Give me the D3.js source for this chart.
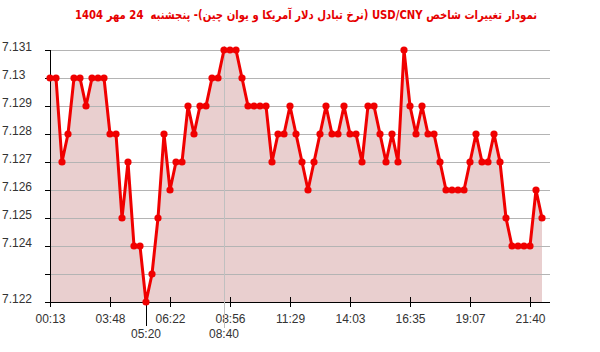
<!DOCTYPE html>
<html>
<head>
<meta charset="utf-8">
<script src="https://cdn.jsdelivr.net/npm/d3@7"></script>
<style>
  html, body { margin: 0; padding: 0; background: #fff; }
  svg { display: block; }
</style>
</head>
<body>
<svg id="chart" width="600" height="352"></svg>
<script>
const titleText = "نمودار تغییرات شاخص USD/CNY (نرخ تبادل دلار آمریکا و یوان چین)- پنجشنبه  24 مهر 1404";

const values = [
  7.130, 7.130, 7.127, 7.128, 7.130, 7.130, 7.129, 7.130, 7.130, 7.130,
  7.128, 7.128, 7.125, 7.127, 7.124, 7.124, 7.122, 7.123, 7.125, 7.128,
  7.126, 7.127, 7.127, 7.129, 7.128, 7.129, 7.129, 7.130, 7.130, 7.131,
  7.131, 7.131, 7.130, 7.129, 7.129, 7.129, 7.129, 7.127, 7.128, 7.128,
  7.129, 7.128, 7.127, 7.126, 7.127, 7.128, 7.129, 7.128, 7.128, 7.129,
  7.128, 7.128, 7.127, 7.129, 7.129, 7.128, 7.127, 7.128, 7.127, 7.131,
  7.129, 7.128, 7.129, 7.128, 7.128, 7.127, 7.126, 7.126, 7.126, 7.126,
  7.127, 7.128, 7.127, 7.127, 7.128, 7.127, 7.125, 7.124, 7.124, 7.124,
  7.124, 7.126, 7.125
];

const xTickIndex = [0, 10, 20, 30, 40, 50, 60, 70, 80];
const xTickLabels = ["00:13", "03:48", "06:22", "08:56", "11:29", "14:03", "16:35", "19:07", "21:40"];

const minLabel = "05:20";
const maxLabel = "08:40";

const yTickValues = [7.122, 7.123, 7.124, 7.125, 7.126, 7.127, 7.128, 7.129, 7.130, 7.131];
const yTickLabels = ["7.122", "", "7.124", "7.125", "7.126", "7.127", "7.128", "7.129", "7.13", "7.131"];

const svg = d3.select("#chart");
const mLeft = 50, mRight = 550, mTop = 50, mBottom = 302;

const x = d3.scaleLinear().domain([0, values.length - 1]).range([50, 542]);
const y = d3.scaleLinear().domain([7.122, 7.131]).range([mBottom, mTop]);

// title
svg.append("text")
  .attr("x", 306).attr("y", 19)
  .attr("text-anchor", "middle")
  .attr("direction", "rtl")
  .style("white-space", "pre")
  .attr("fill", "#e60000")
  .attr("font-family", "DejaVu Sans, Liberation Sans, Arial, sans-serif")
  .attr("font-weight", "bold")
  .attr("font-size", 12)
  .attr("textLength", 462)
  .attr("lengthAdjust", "spacingAndGlyphs")
  .text(titleText);

// area
const area = d3.area()
  .x((d, i) => x(i))
  .y0(mBottom)
  .y1(d => y(d));
svg.append("path")
  .datum(values)
  .attr("d", area)
  .attr("fill", "rgba(170,70,70,0.26)");

// gridlines
svg.append("g").selectAll("line")
  .data(yTickValues.filter(v => v !== 7.122))
  .join("line")
  .attr("x1", mLeft).attr("x2", mRight)
  .attr("y1", d => y(d)).attr("y2", d => y(d))
  .attr("stroke", "#b4b4b4").attr("stroke-width", 1)
  .attr("shape-rendering", "crispEdges");

// y axis
const yAxis = d3.axisLeft(y)
  .tickValues(yTickValues)
  .tickSize(5)
  .tickFormat((d, i) => yTickLabels[i]);
const gy = svg.append("g")
  .attr("transform", `translate(${mLeft},0)`)
  .call(yAxis);
gy.select(".domain").remove();
gy.selectAll(".tick line").attr("stroke", "#000").attr("shape-rendering", "crispEdges");
gy.selectAll(".tick text")
  .attr("text-anchor", "start")
  .attr("x", -48)
  .attr("y", -3)
  .attr("fill", "#333")
  .attr("font-family", "Liberation Sans, Arial, sans-serif")
  .attr("font-size", 12);
gy.append("line")
  .attr("x1", 0).attr("x2", 0).attr("y1", mTop).attr("y2", mBottom)
  .attr("stroke", "#000").attr("shape-rendering", "crispEdges");

// x axis
const xAxis = d3.axisBottom(x)
  .tickValues(xTickIndex)
  .tickSize(5)
  .tickFormat((d, i) => xTickLabels[i]);
const gx = svg.append("g")
  .attr("transform", `translate(0,${mBottom})`)
  .call(xAxis);
gx.select(".domain").remove();
gx.selectAll(".tick line")
  .attr("y1", -5).attr("y2", 5)
  .attr("stroke", "#000").attr("shape-rendering", "crispEdges");
gx.selectAll(".tick text")
  .attr("y", 12)
  .attr("fill", "#333")
  .attr("font-family", "Liberation Sans, Arial, sans-serif")
  .attr("font-size", 12);
gx.append("line")
  .attr("x1", 45).attr("x2", mRight).attr("y1", 0).attr("y2", 0)
  .attr("stroke", "#000").attr("shape-rendering", "crispEdges");

// max marker line (gray)
const maxI = d3.maxIndex(values);
const minI = d3.minIndex(values);
svg.append("line")
  .attr("x1", x(maxI)).attr("x2", x(maxI))
  .attr("y1", mTop - 4).attr("y2", 328)
  .attr("stroke", "#c0c0c0").attr("stroke-width", 1)
  .attr("shape-rendering", "crispEdges");
svg.append("text")
  .attr("x", x(maxI)).attr("y", 338)
  .attr("text-anchor", "middle")
  .attr("fill", "#333")
  .attr("font-family", "Liberation Sans, Arial, sans-serif")
  .attr("font-size", 12)
  .text(maxLabel);

// min marker line (black)
svg.append("line")
  .attr("x1", x(minI)).attr("x2", x(minI))
  .attr("y1", y(values[minI])).attr("y2", 326)
  .attr("stroke", "#000").attr("stroke-width", 1)
  .attr("shape-rendering", "crispEdges");
svg.append("text")
  .attr("x", x(minI)).attr("y", 338)
  .attr("text-anchor", "middle")
  .attr("fill", "#333")
  .attr("font-family", "Liberation Sans, Arial, sans-serif")
  .attr("font-size", 12)
  .text(minLabel);

// line
const line = d3.line()
  .x((d, i) => x(i))
  .y(d => y(d));
svg.append("path")
  .datum(values)
  .attr("d", line)
  .attr("fill", "none")
  .attr("stroke", "#f00000")
  .attr("stroke-width", 3)
  .attr("stroke-linejoin", "round");

// points
svg.append("g").selectAll("circle")
  .data(values)
  .join("circle")
  .attr("cx", (d, i) => x(i))
  .attr("cy", d => y(d))
  .attr("r", 3.6)
  .attr("fill", "#f00000");
</script>
</body>
</html>
